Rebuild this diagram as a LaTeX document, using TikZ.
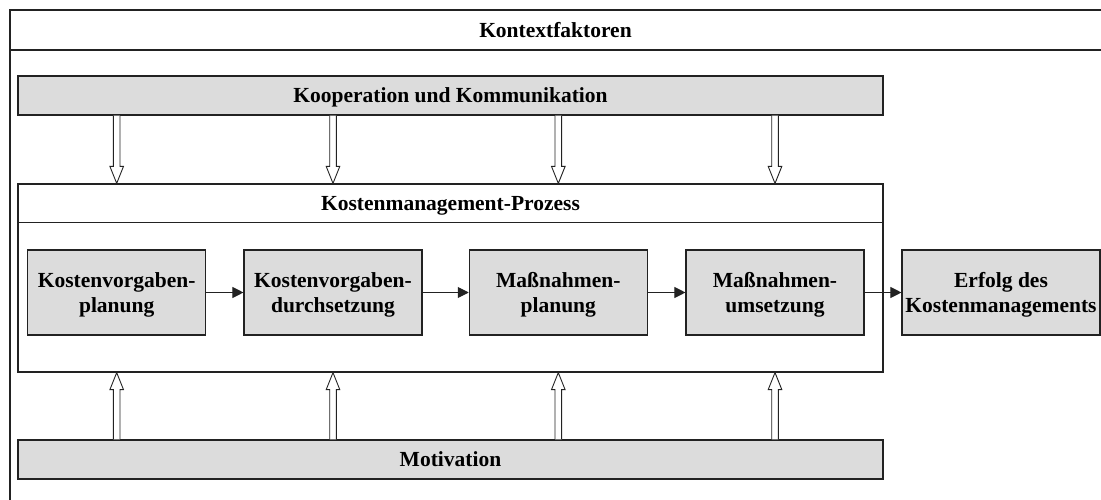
\documentclass[tikz,border=0pt]{standalone}
\usepackage{fontspec}
\setmainfont{Liberation Serif}
\usetikzlibrary{arrows.meta}
\definecolor{boxgray}{HTML}{DCDCDC}
\definecolor{linec}{HTML}{222222}
\newcommand\hollowarr[3]{%
  \draw[hollow] ([xshift=-3.3pt]#1) -- ([xshift=-3.3pt,yshift=#3*17pt]#2)
    -- ([xshift=-6.8pt,yshift=#3*17pt]#2) -- (#2)
    -- ([xshift=6.8pt,yshift=#3*17pt]#2) -- ([xshift=3.3pt,yshift=#3*17pt]#2)
    -- ([xshift=3.3pt]#1);}
\begin{document}
\begin{tikzpicture}[x=1pt,y=-1pt,
  every node/.style={font=\fontsize{21.5}{25}\selectfont\bfseries, inner sep=0pt, text depth=0pt},
  grbox/.style={draw=linec, line width=1.1pt, fill=boxgray, minimum width=178pt, minimum height=85pt, align=center},
  band/.style={draw=linec, line width=1.2pt, fill=boxgray, minimum width=865pt, minimum height=39pt},
  frame/.style={draw=linec, line width=1.2pt},
  flow/.style={draw=linec, line width=1pt, -{Triangle[length=11pt,width=11pt]}},
  hollow/.style={draw=linec, line width=0.9pt, fill=white, line join=miter}]
\useasboundingbox (0,0) rectangle (1101,500);
% outer frame (context factors)
\draw[frame] (1102,10) -- (10,10) -- (10,501);
\draw[frame] (10,50) -- (1102,50);
\node (kontext) at (555.5,30) {Kontextfaktoren};
% bands
\node[band] (koop) at (450.5,95.5) {Kooperation und Kommunikation};
\node[draw=linec, line width=1.2pt, minimum width=865pt, minimum height=188pt] (proc) at (450.5,278) {};
\draw[frame] ([yshift=-39pt]proc.north west) -- ([yshift=-39pt]proc.north east);
\node (proctitle) at (450.5,203.5) {Kostenmanagement-Prozess};
\node[band] (mot) at (450.5,459.5) {Motivation};
% process steps
\node[grbox] (b1) at (116.7,292.5) {Kostenvorgaben-\\planung};
\node[grbox] (b2) at (333,292.5) {Kostenvorgaben-\\durchsetzung};
\node[grbox] (b3) at (558.3,292.5) {Maßnahmen-\\planung};
\node[grbox] (b4) at (775,292.5) {Maßnahmen-\\umsetzung};
\node[grbox, minimum width=198pt] (erf) at (1001,292.5) {Erfolg des\\Kostenmanagements};
\draw[flow] (b1) -- (b2);
\draw[flow] (b2) -- (b3);
\draw[flow] (b3) -- (b4);
\draw[flow] (b4) -- (erf);
% hollow arrows
\foreach \n/\b in {1/b1,2/b2,3/b3,4/b4} {
  \coordinate (ds\n) at (\b.center |- koop.south);
  \coordinate (dt\n) at (\b.center |- proc.north);
  \coordinate (us\n) at (\b.center |- mot.north);
  \coordinate (ut\n) at (\b.center |- proc.south);
  \hollowarr{ds\n}{dt\n}{1}
  \hollowarr{us\n}{ut\n}{-1}
}
\end{tikzpicture}
\end{document}
